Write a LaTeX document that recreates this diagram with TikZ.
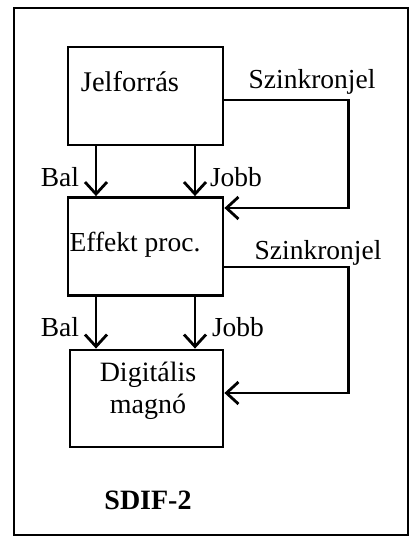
\documentclass[tikz,border=0pt]{standalone}
\usepackage{fontspec}
\setmainfont{Liberation Serif}
\usepackage{tikz}
\usetikzlibrary{arrows.meta, calc}

\begin{document}
\begin{tikzpicture}[x=1pt, y=-1pt,
    doboz/.style={draw, line width=2.8pt, minimum width=155pt, minimum height=98pt, inner sep=0pt},
    felirat/.style={font=\fontsize{27.5}{30}\selectfont, inner sep=0pt, align=center},
    jel/.style={line width=2.6pt, -{Straight Barb[length=12pt, width=22pt, line width=2.8pt]}}]
  \useasboundingbox (0,0) rectangle (412,536);
  \draw[line width=1.4pt] (14,8) rectangle (408,535);
  \node[doboz] (src) at (145.5,96) {};
  \node[doboz] (proc) at (145.5,246.5) {};
  \node[doboz, minimum width=153pt, minimum height=97pt] (mag) at (146.5,398.5) {};
  \node[felirat, font=\fontsize{28.5}{30}\selectfont] (srct) at (130,82) {Jelforrás};
  \node[felirat] (proct) at (135,245) {Effekt proc.};
  \node[felirat, font=\fontsize{28}{32}\selectfont] (magt) at (148,391) {Digitális\\magnó};
  \draw[jel] ([xshift=-49.5pt]src.south) -- ([xshift=-49.5pt]proc.north);
  \draw[jel] ([xshift=49.5pt]src.south) -- ([xshift=49.5pt]proc.north);
  \draw[jel] ([xshift=-49.5pt]proc.south) -- ([xshift=-50.5pt]mag.north);
  \draw[jel] ([xshift=49.5pt]proc.south) -- ([xshift=48.5pt]mag.north);
  \draw[jel] ([yshift=-4pt]src.east) -- ++(124,0) |- ([yshift=38.5pt]proc.east);
  \draw[jel] ([yshift=-20.5pt]proc.east) -- ++(124,0) |- ([yshift=5.5pt]mag.east);
  \node[felirat] (bal1) at (60,177) {Bal};
  \node[felirat] (jobb1) at (236,177) {Jobb};
  \node[felirat] (bal2) at (60,327) {Bal};
  \node[felirat] (jobb2) at (238,327) {Jobb};
  \node[felirat] (szink1) at (312,82) {Szinkronjel};
  \node[felirat] (szink2) at (318,253) {Szinkronjel};
  \node[felirat, font=\fontsize{28}{30}\selectfont\bfseries] (cim) at (148,500) {SDIF-2};
\end{tikzpicture}
\end{document}
